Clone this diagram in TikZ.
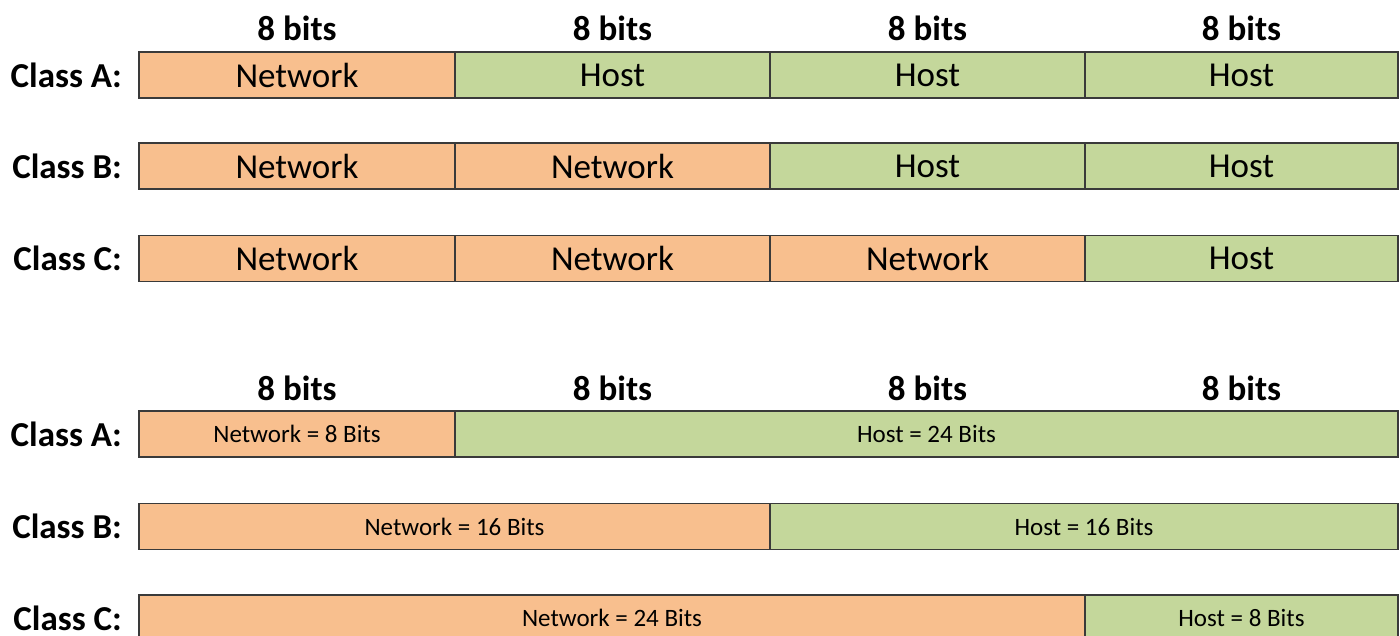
\documentclass[tikz,border=0pt]{standalone}
\usepackage{fontspec}
\setmainfont{Carlito}
\definecolor{netc}{HTML}{F8BF8E}
\definecolor{hostc}{HTML}{C4D79B}
\definecolor{edgec}{HTML}{3A3A3A}
\begin{document}
\begin{tikzpicture}[x=1pt,y=-1pt,
  cell/.style={draw=edgec,line width=1.3pt,inner sep=0pt,minimum height=46pt,anchor=center},
  net/.style={cell,fill=netc},
  host/.style={cell,fill=hostc},
  big/.style={font=\fontsize{35}{40}\selectfont},
  small/.style={font=\fontsize{25}{29}\selectfont},
  lbl/.style={font=\bfseries\fontsize{35}{40}\selectfont,anchor=east,inner sep=0pt},
  hdr/.style={font=\bfseries\fontsize{35}{40}\selectfont,inner sep=0pt}]
\clip (0,0) rectangle (1400,636);
\fill[white] (0,0) rectangle (1400,636);
% headers top
\node[hdr] (h1) at (297,28) {8 bits};
\node[hdr] (h2) at (612.5,28) {8 bits};
\node[hdr] (h3) at (927.5,28) {8 bits};
\node[hdr] (h4) at (1241.5,28) {8 bits};
% top class A
\node[lbl] (la) at (122,75) {Class A:};
\node[net,big,minimum width=316pt] (a1) at (297,75) {Network};
\node[host,big,minimum width=315pt] (a2) at (612.5,75) {Host};
\node[host,big,minimum width=315pt] (a3) at (927.5,75) {Host};
\node[host,big,minimum width=313pt] (a4) at (1241.5,75) {Host};
% top class B
\node[lbl] (lb) at (122,166) {Class B:};
\node[net,big,minimum width=316pt] (b1) at (297,166) {Network};
\node[net,big,minimum width=315pt] (b2) at (612.5,166) {Network};
\node[host,big,minimum width=315pt] (b3) at (927.5,166) {Host};
\node[host,big,minimum width=313pt] (b4) at (1241.5,166) {Host};
% top class C
\node[lbl] (lc) at (122,258.5) {Class C:};
\node[net,big,minimum width=316pt] (c1) at (297,258.5) {Network};
\node[net,big,minimum width=315pt] (c2) at (612.5,258.5) {Network};
\node[net,big,minimum width=315pt] (c3) at (927.5,258.5) {Network};
\node[host,big,minimum width=313pt] (c4) at (1241.5,258.5) {Host};
% headers bottom
\node[hdr] (g1) at (297,388) {8 bits};
\node[hdr] (g2) at (612.5,388) {8 bits};
\node[hdr] (g3) at (927.5,388) {8 bits};
\node[hdr] (g4) at (1241.5,388) {8 bits};
% bottom class A
\node[lbl] (ma) at (122,434) {Class A:};
\node[net,small,minimum width=316pt] (d1) at (297,434) {Network = 8 Bits};
\node[host,small,minimum width=943pt] (d2) at (926.5,434) {Host = 24 Bits};
% bottom class B
\node[lbl] (mb) at (122,526.5) {Class B:};
\node[net,small,minimum width=631pt] (e1) at (454.5,526.5) {Network = 16 Bits};
\node[host,small,minimum width=628pt] (e2) at (1084,526.5) {Host = 16 Bits};
% bottom class C
\node[lbl] (mc) at (122,618) {Class C:};
\node[net,small,minimum width=946pt] (f1) at (612,618) {Network = 24 Bits};
\node[host,small,minimum width=313pt] (f2) at (1241.5,618) {Host = 8 Bits};
\end{tikzpicture}
\end{document}
